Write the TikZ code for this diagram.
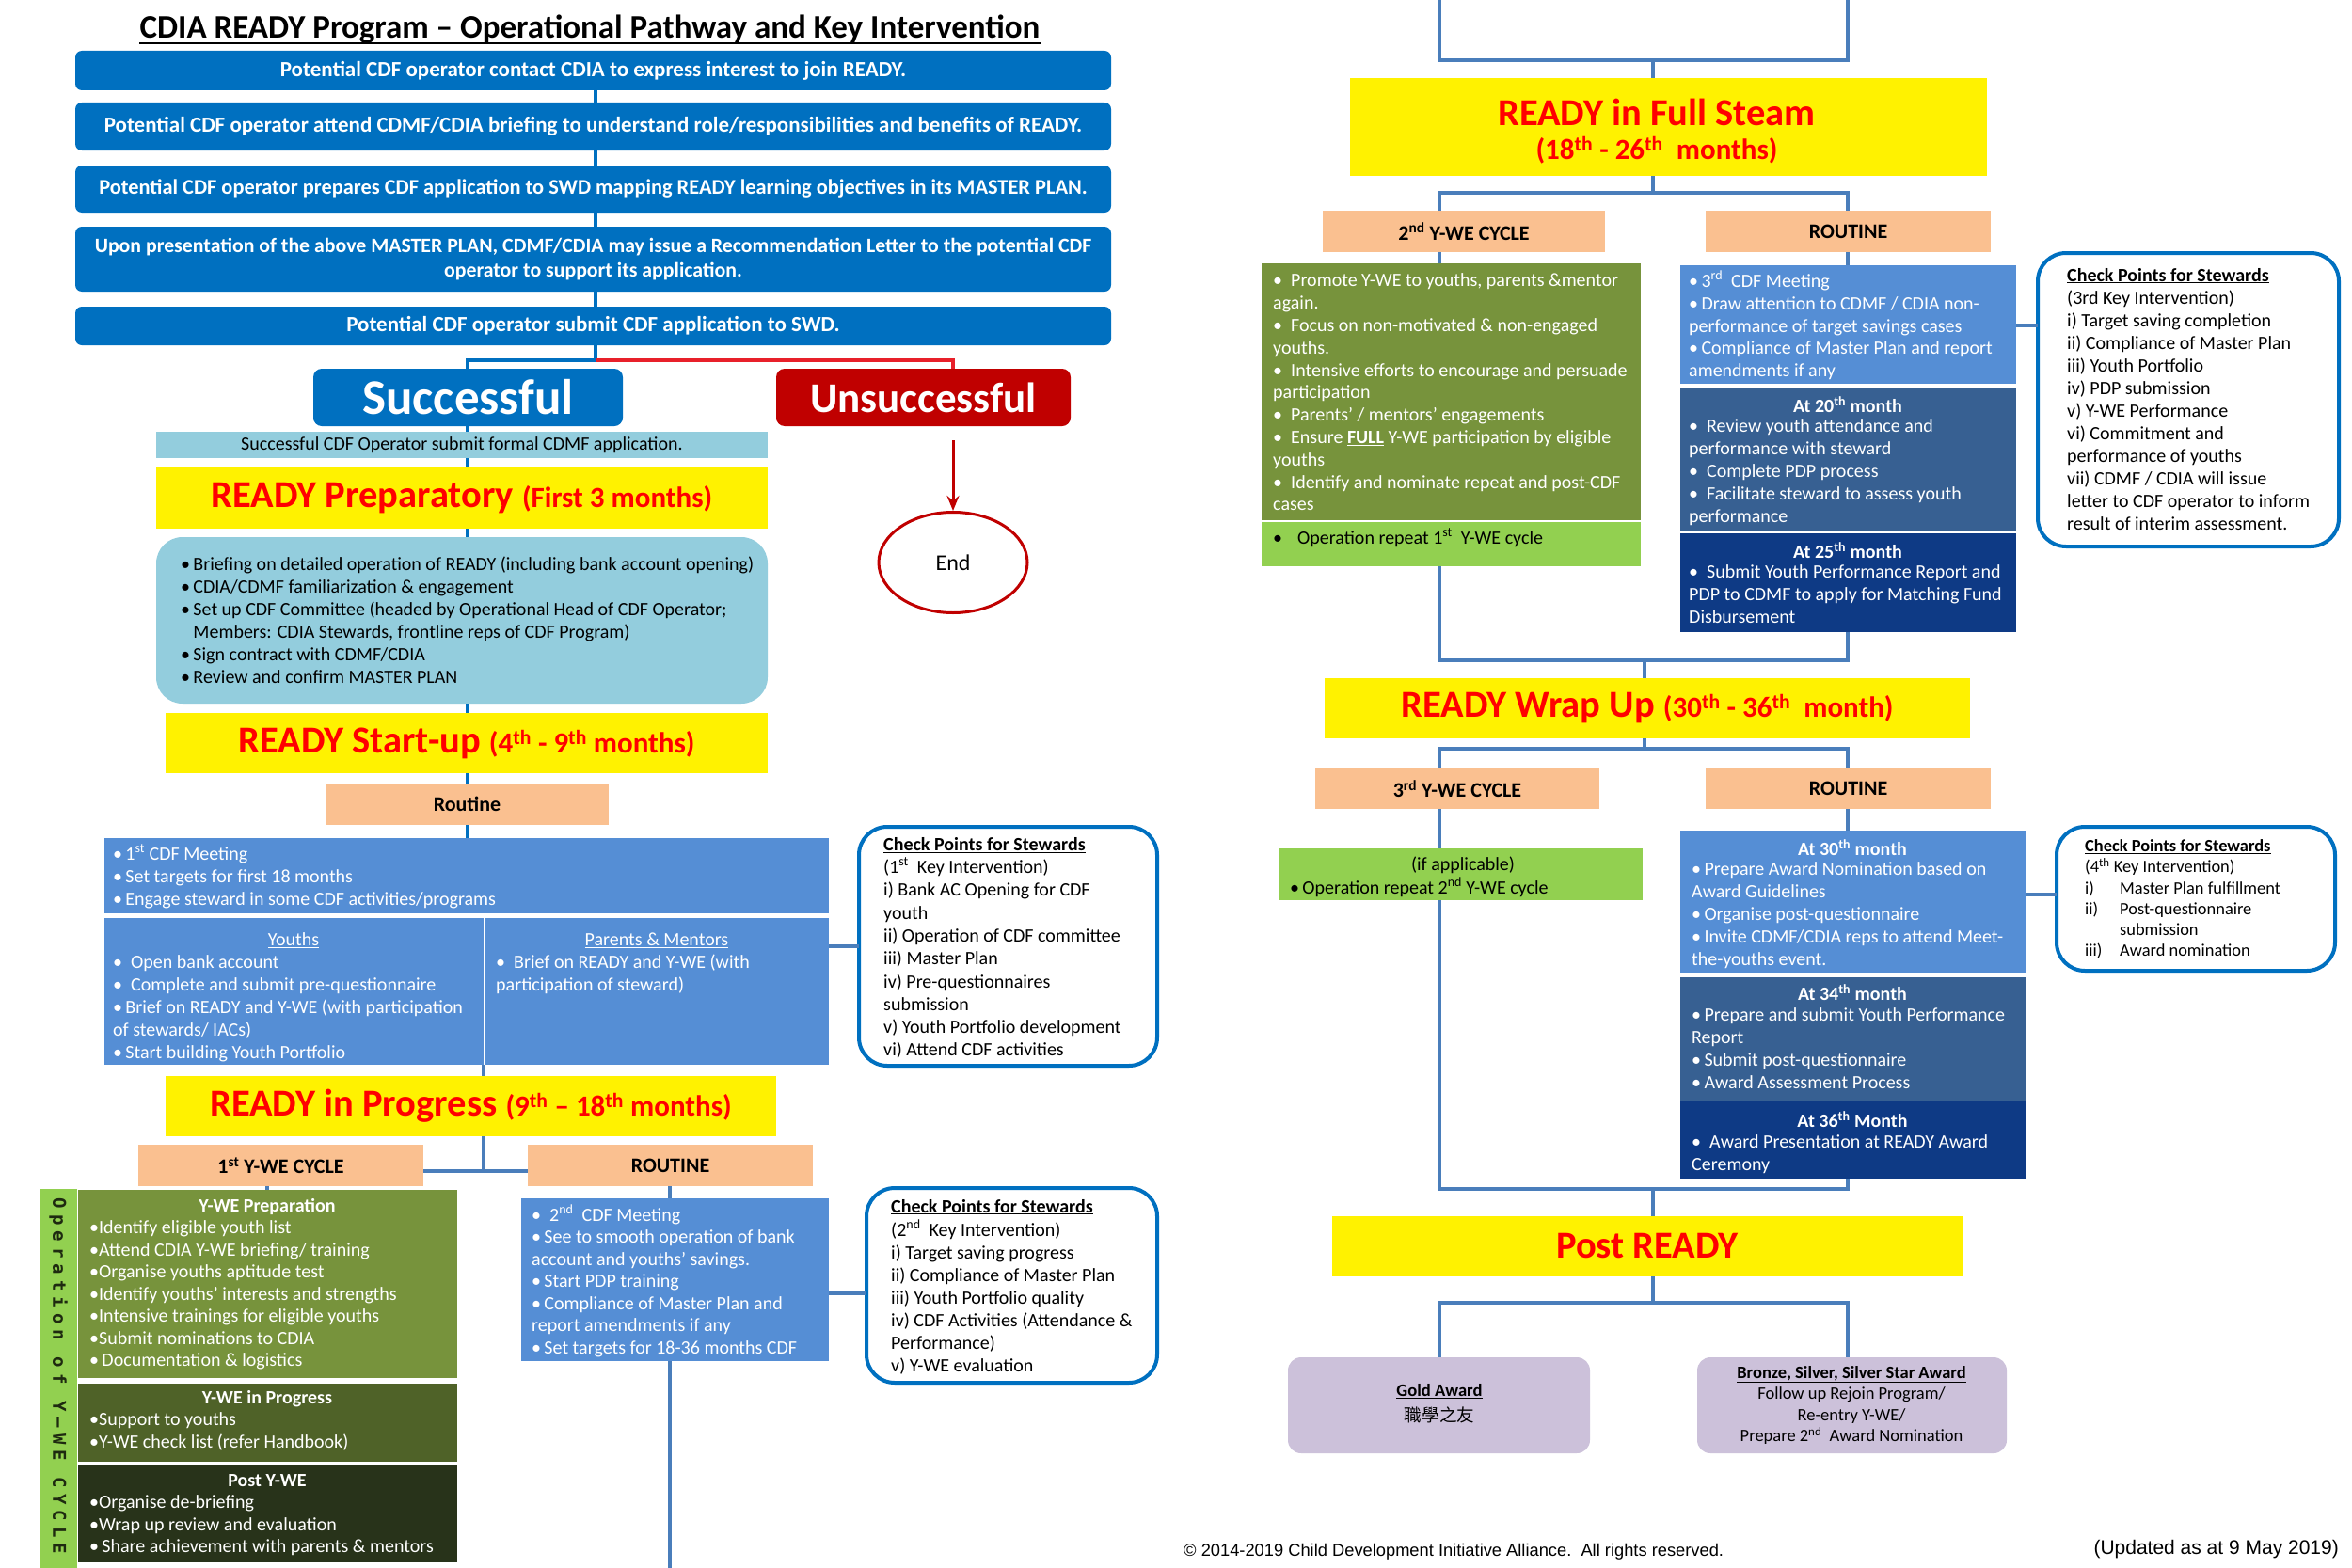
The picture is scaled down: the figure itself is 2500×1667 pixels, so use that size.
\documentclass[tikz,border=0pt]{standalone}
\usepackage{fontspec}
\setmainfont{Carlito}
\newfontfamily\cjk{Noto Sans CJK TC}
\newfontfamily\arialf{Liberation Sans}
\newfontfamily\vmono{DejaVu Sans Mono}[LetterSpace=32]
\usetikzlibrary{fit,shapes.geometric,arrows.meta}
\definecolor{cdblue}{HTML}{0070C0}
\definecolor{lblue}{HTML}{93CDDD}
\definecolor{peach}{HTML}{FAC090}
\definecolor{mblue}{HTML}{558ED5}
\definecolor{sblue}{HTML}{376092}
\definecolor{nvy}{HTML}{0E3A85}
\definecolor{oliveA}{HTML}{77933C}
\definecolor{oliveB}{HTML}{4F6228}
\definecolor{oliveC}{HTML}{28331A}
\definecolor{lgreen}{HTML}{92D050}
\definecolor{lav}{HTML}{CCC1DA}
\definecolor{conblue}{HTML}{4A7EBB}
\definecolor{dred}{HTML}{C00000}
\definecolor{bred}{HTML}{E8202A}
\definecolor{hred}{HTML}{FF0000}
\definecolor{vtext}{HTML}{1E2A10}
\newcommand\fb{\fontsize{20}{24}\selectfont}
\newcommand\pth{\fontsize{31}{36}\selectfont}
\newcommand\bx[6]{\node[fit={(#2,#3) (#4,#5)},inner sep=0pt,outer sep=0pt,#6] (#1) {};}
\newcommand\tx[5][]{\node[txt,#1] (#2) at (#3,#4-11) {\strut #5};}
\tikzset{
  txt/.style={anchor=north west,inner sep=0pt,align=left,font=\fb,text=white},
  hd/.style={inner sep=0pt,font=\fb\bfseries,text=white},
  bar/.style={fill=cdblue,rounded corners=7pt},
  bart/.style={inner sep=0pt,align=center,font=\fontsize{23}{26}\selectfont\bfseries,text=white},
  ylw/.style={fill=yellow},
  ylt/.style={inner sep=0pt,font=\fontsize{40.5}{44}\selectfont\bfseries,text=hred},
  pch/.style={fill=peach},
  pcht/.style={inner sep=0pt,font=\fontsize{22}{26}\selectfont\bfseries,text=black},
  ck/.style={draw=cdblue,line width=4pt,fill=white,rounded corners=30pt},
  con/.style={draw=conblue,line width=4.5pt},
  conA/.style={draw=cdblue,line width=3.5pt},
}
\begin{document}
\begin{tikzpicture}[x=1pt,y=-1pt]
\useasboundingbox (0,0) rectangle (2500,1667);
\fill[white] (0,0) rectangle (2500,1667);

% ---------- title ----------
\node[inner sep=0pt,font=\fontsize{35}{40}\selectfont\bfseries] (title) at (627,31) {CDIA READY Program – Operational Pathway and Key Intervention};
\draw[line width=2pt] (title.south west) -- (title.south east);

% ---------- blue bars ----------
\bx{b1}{80}{54}{1181}{96}{bar}
\node[bart] (b1t) at (b1) {Potential CDF operator contact CDIA to express interest to join READY.};
\bx{b2}{80}{109}{1181}{160}{bar}
\node[bart] (b2t) at (b2) {Potential CDF operator attend CDMF/CDIA briefing to understand role/responsibilities and benefits of READY.};
\bx{b3}{80}{176}{1181}{226}{bar}
\node[bart,font=\fontsize{22.4}{26}\selectfont\bfseries] (b3t) at (b3) {Potential CDF operator prepares CDF application to SWD mapping READY learning objectives in its MASTER PLAN.};
\bx{b4}{80}{241}{1181}{310}{bar}
\node[bart,font=\fontsize{21.8}{26}\selectfont\bfseries] (b4t) at (b4) {Upon presentation of the above MASTER PLAN, CDMF/CDIA may issue a Recommendation Letter to the potential CDF\\operator to support its application.};
\bx{b5}{80}{326}{1181}{367}{bar}
\node[bart] (b5t) at (b5) {Potential CDF operator submit CDF application to SWD.};

% ---------- successful / unsuccessful ----------
\bx{succ}{333}{392}{662}{453}{fill=cdblue,rounded corners=9pt}
\node[inner sep=0pt,font=\fontsize{53}{56}\selectfont\bfseries,text=white] (succt) at (succ) {Successful};
\bx{unsucc}{825}{392}{1138}{453}{fill=dred,rounded corners=9pt}
\node[inner sep=0pt,font=\fontsize{45}{50}\selectfont\bfseries,text=white] (unsucct) at (unsucc) {Unsuccessful};
\node[ellipse,draw=dred,line width=3pt,fill=white,minimum width=158,minimum height=107,font=\fontsize{24}{28}\selectfont] (endn) at (1013,598) {End};

\bx{app}{166}{459}{816}{487}{fill=lblue}
\node[inner sep=0pt,font=\fb] (appt) at (app) {Successful CDF Operator submit formal CDMF application.};
\bx{prep}{166}{497}{816}{562}{ylw}
\node[ylt] (prept) at (prep) {READY Preparatory \pth(First 3 months)};
\bx{prepd}{166}{571}{816}{748}{fill=lblue,rounded corners=28pt}
\tx[text=black]{prepdt}{192}{600}{•\,Briefing on detailed operation of READY (including bank account opening)\\
•\,CDIA/CDMF familiarization \& engagement\\
•\,Set up CDF Committee (headed by Operational Head of CDF Operator;\\
\hphantom{•\,}Members: CDIA Stewards, frontline reps of CDF Program)\\
•\,Sign contract with CDMF/CDIA\\
•\,Review and confirm MASTER PLAN}

% ---------- start-up ----------
\bx{su}{176}{758}{816}{822}{ylw}
\node[ylt] (sut) at (su) {READY Start-up \pth(4\textsuperscript{th} - 9\textsuperscript{th} months)};
\bx{rt}{346}{833}{647}{877}{pch}
\node[pcht] (rtt) at (rt) {Routine};
\bx{sb1}{111}{891}{881}{971}{fill=mblue}
\tx{sb1t}{120}{908}{•\,1\textsuperscript{st} CDF Meeting\\
•\,Set targets for first 18 months\\
•\,Engage steward in some CDF activities/programs}
\bx{yth}{111}{976}{514}{1132}{fill=mblue}
\bx{pm}{516}{976}{881}{1132}{fill=mblue}
\node[inner sep=0pt,font=\fb,text=white] (ythh) at (312,1000) {\underline{Youths}};
\node[inner sep=0pt,font=\fb,text=white] (pmh) at (698,1000) {\underline{Parents \& Mentors}};
\tx{ytht}{120}{1023}{•\ \ Open bank account\\
•\ \ Complete and submit pre-questionnaire\\
•\,Brief on READY and Y-WE (with participation\\
of stewards/ IACs)\\
•\,Start building Youth Portfolio}
\tx{pmt}{527}{1023}{•\ \ Brief on READY and Y-WE (with\\
participation of steward)}
\bx{ck1}{913}{879}{1230}{1133}{ck}
\tx[text=black,font=\fontsize{20}{24.3}\selectfont]{ck1t}{939}{898}{\textbf{\underline{Check Points for Stewards}}\\
(1\textsuperscript{st}\ \ Key Intervention)\\
i) Bank AC Opening for CDF\\
youth\\
ii) Operation of CDF committee\\
iii) Master Plan\\
iv) Pre-questionnaires\\
submission\\
v) Youth Portfolio development\\
vi) Attend CDF activities}

% ---------- in progress ----------
\bx{ip}{176}{1144}{825}{1208}{ylw}
\node[ylt] (ipt) at (ip) {READY in Progress \pth(9\textsuperscript{th} – 18\textsuperscript{th} months)};
\bx{cyc1}{147}{1217}{450}{1261}{pch}
\node[pcht] (cyc1t) at (cyc1) {1\textsuperscript{st} Y-WE CYCLE};
\bx{rt2}{561}{1217}{864}{1261}{pch}
\node[pcht] (rt2t) at (rt2) {ROUTINE};
\bx{gbar}{42}{1264}{82}{1667}{fill=lgreen}
\node[inner sep=0pt,rotate=-90,text=vtext,font=\vmono\bfseries\fontsize{19}{22}\selectfont] (gbart) at (62,1463) {Operation of Y–WE CYCLE};
\bx{yp}{83}{1265}{486}{1465}{fill=oliveA}
\bx{yip}{83}{1471}{486}{1554}{fill=oliveB}
\bx{pyw}{83}{1557}{486}{1661}{fill=oliveC}
\node[hd] (yph) at (284,1283) {Y-WE Preparation};
\node[hd] (yiph) at (284,1487) {Y-WE in Progress};
\node[hd] (pywh) at (284,1574) {Post Y-WE};
\tx[font=\fontsize{20}{23.5}\selectfont]{ypt}{95}{1306}{•Identify eligible youth list\\
•Attend CDIA Y-WE briefing/ training\\
•Organise youths aptitude test\\
•Identify youths’ interests and strengths\\
•Intensive trainings for eligible youths\\
•Submit nominations to CDIA\\
•\,Documentation \& logistics}
\tx[font=\fontsize{20}{23.5}\selectfont]{yipt}{95}{1510}{•Support to youths\\
•Y-WE check list (refer Handbook)}
\tx[font=\fontsize{20}{23.5}\selectfont]{pywt}{95}{1598}{•Organise de-briefing\\
•Wrap up review and evaluation\\
•\,Share achievement with parents \& mentors}
\bx{rb2}{554}{1274}{881}{1447}{fill=mblue}
\tx[font=\fontsize{20}{23.5}\selectfont]{rb2t}{565}{1292}{•\ \ 2\textsuperscript{nd}\ \ CDF Meeting\\
•\,See to smooth operation of bank\\
account and youths’ savings.\\
•\,Start PDP training\\
•\,Compliance of Master Plan and\\
report amendments if any\\
•\,Set targets for 18-36 months CDF}
\bx{ck2}{921}{1263}{1230}{1470}{ck}
\tx[text=black]{ck2t}{947}{1283}{\textbf{\underline{Check Points for Stewards}}\\
(2\textsuperscript{nd}\ \ Key Intervention)\\
i) Target saving progress\\
ii) Compliance of Master Plan\\
iii) Youth Portfolio quality\\
iv) CDF Activities (Attendance \&\\
Performance)\\
v) Y-WE evaluation}

% ---------- full steam ----------
\bx{fs}{1435}{83}{2112}{187}{ylw}
\node[ylt] (fst1) at (1761,119) {READY in Full Steam};
\node[ylt,font=\pth\bfseries] (fst2) at (1761,160) {(18\textsuperscript{th} - 26\textsuperscript{th}\ \ months)};
\bx{cyc2}{1406}{224}{1706}{268}{pch}
\node[pcht] (cyc2t) at (cyc2) {2\textsuperscript{nd} Y-WE CYCLE};
\bx{rt3}{1813}{224}{2116}{268}{pch}
\node[pcht] (rt3t) at (rt3) {ROUTINE};
\bx{g2}{1341}{280}{1744}{553}{fill=oliveA}
\tx[font=\fontsize{20}{23.8}\selectfont]{g2t}{1353}{299}{•\ \ Promote Y-WE to youths, parents \&mentor\\
again.\\
•\ \ Focus on non-motivated \& non-engaged\\
youths.\\
•\ \ Intensive efforts to encourage and persuade\\
participation\\
•\ \ Parents’ / mentors’ engagements\\
•\ \ Ensure \textbf{\underline{FULL}} Y-WE participation by eligible\\
youths\\
•\ \ Identify and nominate repeat and post-CDF\\
cases}
\bx{lg2}{1341}{555}{1744}{602}{fill=lgreen}
\tx[text=black]{lg2t}{1353}{572}{•\hspace{16pt}Operation repeat 1\textsuperscript{st}\ \ Y-WE cycle}
\bx{ba}{1786}{282}{2143}{408}{fill=mblue}
\tx[font=\fontsize{20}{23.8}\selectfont]{bat}{1795}{299}{•\,3\textsuperscript{rd}\ \ CDF Meeting\\
•\,Draw attention to CDMF / CDIA non-\\
performance of target savings cases\\
•\,Compliance of Master Plan and report\\
amendments if any}
\bx{bb}{1786}{413}{2143}{565}{fill=sblue}
\node[hd] (bbh) at (1964,430) {At 20\textsuperscript{th} month};
\tx[font=\fontsize{20}{23.8}\selectfont]{bbt}{1795}{454}{•\ \ Review youth attendance and\\
performance with steward\\
•\ \ Complete PDP process\\
•\ \ Facilitate steward to assess youth\\
performance}
\bx{bc}{1786}{567}{2143}{672}{fill=nvy}
\node[hd] (bch) at (1964,585) {At 25\textsuperscript{th} month};
\tx[font=\fontsize{20}{23.8}\selectfont]{bct}{1795}{609}{•\ \ Submit Youth Performance Report and\\
PDP to CDMF to apply for Matching Fund\\
Disbursement}
\bx{ck3}{2166}{269}{2486}{581}{ck}
\tx[text=black]{ck3t}{2197}{293}{\textbf{\underline{Check Points for Stewards}}\\
(3rd Key Intervention)\\
i) Target saving completion\\
ii) Compliance of Master Plan\\
iii) Youth Portfolio\\
iv) PDP submission\\
v) Y-WE Performance\\
vi) Commitment and\\
performance of youths\\
vii) CDMF / CDIA will issue\\
letter to CDF operator to inform\\
result of interim assessment.}

% ---------- wrap up ----------
\bx{wu}{1408}{721}{2094}{785}{ylw}
\node[ylt] (wut) at (1751,753) {READY Wrap Up \pth(30\textsuperscript{th} - 36\textsuperscript{th}\ \ month)};
\bx{cyc3}{1398}{817}{1700}{860}{pch}
\node[pcht] (cyc3t) at (cyc3) {3\textsuperscript{rd} Y-WE CYCLE};
\bx{rt4}{1813}{817}{2116}{860}{pch}
\node[pcht] (rt4t) at (rt4) {ROUTINE};
\bx{lg3}{1360}{902}{1746}{957}{fill=lgreen}
\node[inner sep=0pt,font=\fb] (lg3h) at (1555,920) {(if applicable)};
\tx[text=black]{lg3t}{1371}{944}{•\,Operation repeat 2\textsuperscript{nd} Y-WE cycle}
\bx{bd}{1786}{883}{2153}{1034}{fill=mblue}
\node[hd] (bdh) at (1969,901) {At 30\textsuperscript{th} month};
\tx{bdt}{1798}{924}{•\,Prepare Award Nomination based on\\
Award Guidelines\\
•\,Organise post-questionnaire\\
•\,Invite CDMF/CDIA reps to attend Meet-\\
the-youths event.}
\bx{be}{1786}{1039}{2153}{1170}{fill=sblue}
\node[hd] (beh) at (1969,1055) {At 34\textsuperscript{th} month};
\tx{bet}{1798}{1079}{•\,Prepare and submit Youth Performance\\
Report\\
•\,Submit post-questionnaire\\
•\,Award Assessment Process}
\bx{bf}{1786}{1171}{2153}{1253}{fill=nvy}
\node[hd] (bfh) at (1969,1190) {At 36\textsuperscript{th} Month};
\tx{bft}{1798}{1214}{•\ \ Award Presentation at READY Award\\
Ceremony}
\bx{ck4}{2186}{879}{2482}{1032}{ck}
\tx[text=black,font=\fontsize{18.4}{22.2}\selectfont]{ck4t}{2216}{901}{\textbf{\underline{Check Points for Stewards}}\\
(4\textsuperscript{th} Key Intervention)\\
\makebox[37pt][l]{i)}Master Plan fulfillment\\
\makebox[37pt][l]{ii)}Post-questionnaire\\
\hspace*{37pt}submission\\
\makebox[37pt][l]{iii)}Award nomination}

% ---------- post ready ----------
\bx{pr}{1416}{1293}{2087}{1357}{ylw}
\node[ylt] (prt) at (1751,1325) {Post READY};
\bx{gold}{1369}{1443}{1690}{1545}{fill=lav,rounded corners=14pt}
\node[inner sep=0pt,align=center,font=\fontsize{18.6}{27}\selectfont] (goldt) at (1530,1492) {\textbf{\underline{Gold Award}}\\{\cjk 職學之友}};
\bx{brz}{1804}{1443}{2133}{1545}{fill=lav,rounded corners=14pt}
\node[inner sep=0pt,align=center,font=\fontsize{18.5}{22.4}\selectfont] (brzt) at (1968,1494) {\textbf{\underline{Bronze, Silver, Silver Star Award}}\\Follow up Rejoin Program/\\Re-entry Y-WE/\\Prepare 2\textsuperscript{nd}\ \ Award Nomination};

% ---------- footer ----------
\node[anchor=west,inner sep=0pt,font=\arialf\fontsize{18.3}{20}\selectfont] (copy) at (1258,1650) {© 2014-2019 Child Development Initiative Alliance.\ \ All rights reserved.};
\node[anchor=east,inner sep=0pt,font=\arialf\fontsize{21}{23}\selectfont] (upd) at (2486,1647) {(Updated as at 9 May 2019)};

% ---------- connectors, left ----------
\coordinate (cT) at (633,0);
\coordinate (cL) at (497,0);
\coordinate (cM) at (514,0);
\coordinate (cR) at (712,0);
\coordinate (jS) at (633,383);
\draw[conA] (b1.south -| cT) -- (b2.north -| cT);
\draw[conA] (b2.south -| cT) -- (b3.north -| cT);
\draw[conA] (b3.south -| cT) -- (b4.north -| cT);
\draw[conA] (b4.south -| cT) -- (b5.north -| cT);
\draw[conA] (b5.south -| cT) -- (jS) -- (jS -| cL) -- (succ.north -| cL);
\draw[draw=bred,line width=3.5pt] (jS) -- (jS -| endn) -- (unsucc.north -| endn);
\draw[dred,line width=3pt,-{Stealth[length=16pt,width=13pt]}] ([yshift=-15pt]unsucc.south -| endn.north) -- (endn.north);
\draw[conA] (succ.south -| cL) -- (app.north -| cL);
\draw[conA] (app.south -| cL) -- (prep.north -| cL);
\draw[conA] (prep.south -| cL) -- (prepd.north -| cL);
\draw[conA] (prepd.south -| cL) -- (su.north -| cL);
\draw[conA] (su.south -| cL) -- (rt.north -| cL);
\draw[conA] (rt.south -| cL) -- (sb1.north -| cL);
\coordinate (k1) at (0,1006);
\draw[con] (pm.east |- k1) -- (ck1.west |- k1);
\draw[con] (yth.south -| cM) -- (ip.north -| cM);
\coordinate (j3) at (514,1245);
\draw[con] (ip.south -| cM) -- (j3);
\draw[con] (cyc1.east |- j3) -- (rt2.west |- j3);
\draw[con] (cyc1.south -| yph) -- (yp.north -| yph);
\draw[con] (rt2.south -| cR) -- (rb2.north -| cR);
\coordinate (bot) at (712,1667);
\draw[con] (rb2.south -| cR) -- (bot);
\coordinate (k2) at (0,1375);
\draw[con] (rb2.east |- k2) -- (ck2.west |- k2);

% ---------- connectors, right ----------
\coordinate (rL) at (1530,0);
\coordinate (rR) at (1964,0);
\coordinate (rM) at (1757,0);
\coordinate (rM2) at (1748,0);
\coordinate (h1) at (0,64);
\coordinate (h2) at (0,205);
\coordinate (h3) at (0,702);
\coordinate (h4) at (0,796);
\coordinate (h5) at (0,1264);
\coordinate (h6) at (0,1385);
\draw[con] (rL) -- (rL |- h1) -- (rR |- h1) -- (rR);
\draw[con] (rM |- h1) -- (rM |- fs.north);
\draw[con] (rM |- fs.south) -- (rM |- h2);
\draw[con] (rL |- cyc2.north) -- (rL |- h2) -- (rR |- h2) -- (rR |- rt3.north);
\draw[con] (rL |- cyc2.south) -- (rL |- g2.north);
\draw[con] (rR |- rt3.south) -- (rR |- ba.north);
\coordinate (k3) at (0,346);
\draw[con] (ba.east |- k3) -- (ck3.west |- k3);
\draw[con] (rL |- lg2.south) -- (rL |- h3) -- (rR |- h3) -- (rR |- bc.south);
\draw[con] (rM2 |- h3) -- (rM2 |- wu.north);
\draw[con] (rM2 |- wu.south) -- (rM2 |- h4);
\draw[con] (rL |- cyc3.north) -- (rL |- h4) -- (rR |- h4) -- (rR |- rt4.north);
\draw[con] (rL |- cyc3.south) -- (rL |- lg3.north);
\draw[con] (rR |- rt4.south) -- (rR |- bd.north);
\coordinate (k4) at (0,951);
\draw[con] (bd.east |- k4) -- (ck4.west |- k4);
\draw[con] (rL |- lg3.south) -- (rL |- h5) -- (rR |- h5) -- (rR |- bf.south);
\draw[con] (rM |- h5) -- (rM |- pr.north);
\draw[con] (rM |- pr.south) -- (rM |- h6);
\draw[con] (rL |- gold.north) -- (rL |- h6) -- (rR |- h6) -- (rR |- brz.north);
\end{tikzpicture}
\end{document}
